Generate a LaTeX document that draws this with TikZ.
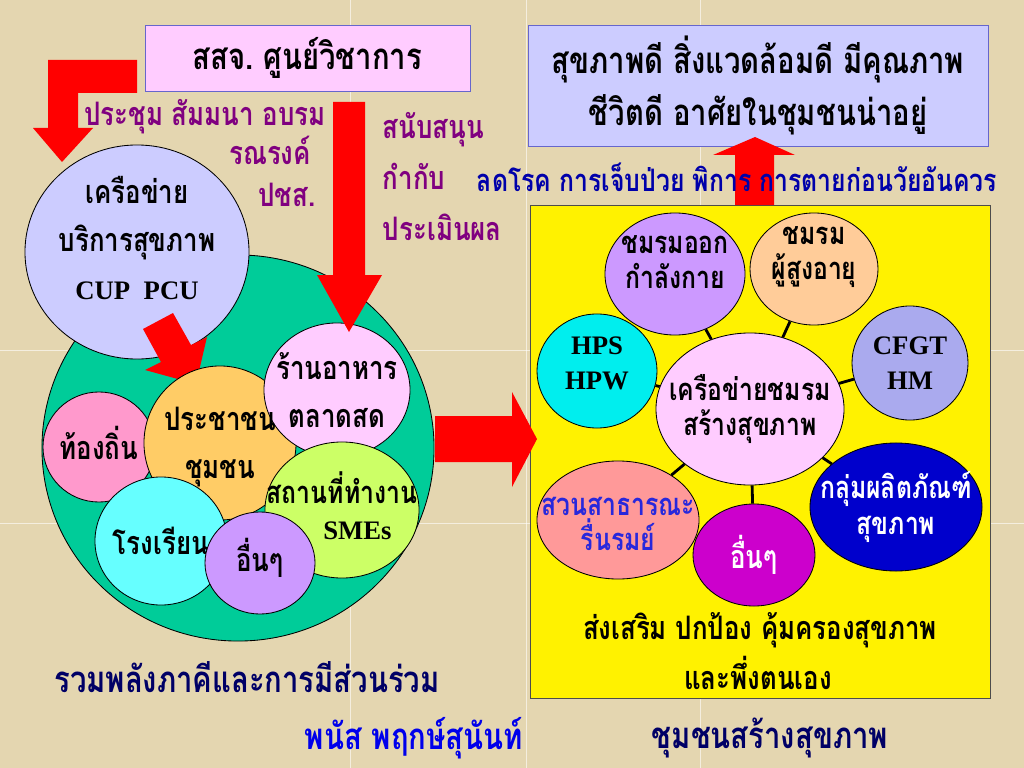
\documentclass[tikz,border=0pt]{standalone}
\usepackage{fontspec}
\newfontfamily\thaifont[Script=Thai,FakeStretch=0.8]{Loma}
\newfontfamily\latinfont{Liberation Serif}
\newcommand\lat[1]{{\latinfont\fontsize{19}{\baselineskip}\selectfont #1}}
\usetikzlibrary{shapes.geometric}

\definecolor{parch}{RGB}{228,214,176}
\definecolor{pinkbox}{RGB}{255,204,255}
\definecolor{lav}{RGB}{204,204,255}
\definecolor{boxline}{RGB}{102,102,204}
\definecolor{purp}{RGB}{128,0,128}
\definecolor{navy}{RGB}{0,0,102}
\definecolor{dblue}{RGB}{0,0,170}
\definecolor{bblue}{RGB}{0,0,235}
\definecolor{teal}{RGB}{0,204,153}
\definecolor{rose}{RGB}{255,153,204}
\definecolor{orng}{RGB}{255,204,102}
\definecolor{lime}{RGB}{204,255,102}
\definecolor{aqua}{RGB}{102,255,255}
\definecolor{lilac}{RGB}{204,153,255}
\definecolor{peach}{RGB}{255,204,153}
\definecolor{cyn}{RGB}{0,238,238}
\definecolor{periw}{RGB}{170,170,238}
\definecolor{roy}{RGB}{0,0,204}
\definecolor{salmon}{RGB}{255,153,153}
\definecolor{parktxt}{RGB}{40,40,220}
\definecolor{magen}{RGB}{204,0,204}

\begin{document}
\begin{tikzpicture}[x=0.025cm, y=-0.025cm,
    bub/.style={ellipse, draw=black, line width=0.6pt, inner sep=0pt},
    lbl/.style={font=\thaifont\bfseries\fontsize{23}{34}\selectfont, align=center},
    lbls/.style={font=\thaifont\bfseries\fontsize{22}{25}\selectfont, align=center},
    big/.style={font=\thaifont\bfseries\fontsize{26}{37}\selectfont, align=center},
    link/.style={line width=2pt}]

    \useasboundingbox (0,0) rectangle (1024,768);
    % Parchment background with tile seams
    \fill[parch] (0,0) rectangle (1024,768);
    \foreach \sx in {350,526,700} \draw[white, opacity=0.6, line width=0.5pt] (\sx,0) -- (\sx,768);
    \foreach \sy in {350,523} \draw[white, opacity=0.6, line width=0.5pt] (0,\sy) -- (1024,\sy);

    % Top boxes
    \node[draw=boxline, fill=pinkbox, minimum width=8.125cm, minimum height=1.65cm, big] (ssj) at (307.5,58) {สสจ.\ ศูนย์วิชาการ};
    \node[draw=boxline, fill=lav, minimum width=11.5cm, minimum height=3.025cm, big] (goal) at (758,85.5) {สุขภาพดี สิ่งแวดล้อมดี มีคุณภาพ\\ชีวิตดี อาศัยในชุมชนน่าอยู่};

    % Purple notes
    \node[lbl, text=purp] (meet) at (205,117) {ประชุม สัมมนา อบรม};
    \node[lbl, text=purp] (camp) at (270,150) {รณรงค์};
    \node[lbl, text=purp] (pr) at (287,195) {ปชส.};
    \node[lbl, text=purp, anchor=west] (supp) at (378,130) {สนับสนุน};
    \node[lbl, text=purp, anchor=west] (ctrl) at (378,176) {กำกับ};
    \node[lbl, text=purp, anchor=west] (eval) at (378,227) {ประเมินผล};

    % Bent arrow into the network
    \fill[red] (48,60) -- (137,60) -- (137,93) -- (78,93) -- (78,128) -- (93,128)
        -- (62,162) -- (33,128) -- (48,128) -- cycle;

    % Partners
    \node[bub, fill=teal, minimum width=9.8cm, minimum height=9.65cm] (part) at (238,448) {};
    \node[bub, fill=lav, minimum width=5.6cm, minimum height=5.35cm,
        label={[lbl, yshift=10pt]center:เครือข่าย\\บริการสุขภาพ\\\lat{CUP\ \ PCU}}] (cup) at (137,252) {};
    \fill[red] (143,329) -- (173,313) -- (191,345) -- (207,337) -- (196,384) -- (145,370) -- (161,362) -- cycle;
    \node[bub, fill=rose, minimum width=2.8cm, minimum height=2.75cm,
        label={[lbl, yshift=3pt]center:ท้องถิ่น}] (local) at (99,447) {};
    \node[bub, fill=orng, minimum width=3.8cm, minimum height=3.85cm] (people) at (220,443) {};
    \node[bub, fill=pinkbox, minimum width=3.65cm, minimum height=3.35cm,
        label={[lbl]center:ร้านอาหาร\\ตลาดสด}] (food) at (337,390) {};
    \node[lbl] (peopletxt) at (220,447) {ประชาชน\\ชุมชน};
    \node[bub, fill=lime, minimum width=3.85cm, minimum height=3.4cm,
        label={[lbls, yshift=3pt]center:สถานที่ทำงาน\\\hspace*{22pt}\lat{SMEs}}] (work) at (342,510) {};
    \node[bub, fill=aqua, minimum width=3.3cm, minimum height=3.2cm,
        label={[lbl]center:โรงเรียน}] (school) at (161,541) {};
    \node[bub, fill=lilac, minimum width=2.75cm, minimum height=2.55cm,
        label={[lbl, yshift=4pt]center:อื่นๆ}] (etc) at (260,563) {};
    \fill[red] (333,102) -- (365,102) -- (365,275) -- (382,275) -- (349,332) -- (317,275) -- (333,275) -- cycle;

    % Healthy community box
    \fill[yellow, draw=black!70, line width=0.6pt] (530,205) rectangle (990,698);
    \fill[red] (435,416) -- (512,416) -- (512,392) -- (537,439) -- (512,487) -- (512,462) -- (435,462) -- cycle;
    \fill[red] (735,205) -- (774,205) -- (774,155) -- (795,155) -- (755,137) -- (713,155) -- (735,155) -- cycle;
    \node[lbl, text=dblue, font=\thaifont\bfseries\fontsize{22}{34}\selectfont] (reduce) at (737,177) {ลดโรค การเจ็บป่วย พิการ การตายก่อนวัยอันควร};

    \node[bub, fill=lilac, minimum width=3.5cm, minimum height=3.05cm,
        label={[lbls, yshift=8.5pt]center:ชมรมออก\\กำลังกาย}] (sport) at (675,274) {};
    \node[bub, fill=peach, minimum width=3.2cm, minimum height=2.8cm,
        label={[lbls, yshift=8.5pt]center:ชมรม\\ผู้สูงอายุ}] (elder) at (814,269) {};
    \node[bub, fill=cyn, minimum width=3cm, minimum height=2.85cm,
        label={[lbls, yshift=5.5pt]center:\lat{HPS}\\\lat{HPW}}] (hps) at (597,371) {};
    \node[bub, fill=pinkbox, minimum width=4.7cm, minimum height=3.8cm,
        label={[lbls]center:เครือข่ายชมรม\\สร้างสุขภาพ}] (hub) at (750,409) {};
    \node[bub, fill=periw, minimum width=2.9cm, minimum height=2.85cm,
        label={[lbls]center:\lat{CFGT}\\\lat{HM}}] (cfgt) at (910,363) {};
    \node[bub, fill=roy, minimum width=4.3cm, minimum height=3.2cm,
        label={[lbls, text=white]center:กลุ่มผลิตภัณฑ์\\สุขภาพ}] (prod) at (896,507) {};
    \node[bub, fill=salmon, minimum width=4.05cm, minimum height=2.95cm,
        label={[lbls, text=parktxt, yshift=-3pt]center:สวนสาธารณะ\\รื่นรมย์}] (park) at (618,520) {};
    \node[bub, fill=magen, minimum width=3.05cm, minimum height=2.55cm,
        label={[lbl, text=white]center:อื่นๆ}] (etc2) at (754,555) {};
    \foreach \s in {sport,elder,hps,cfgt,prod,park,etc2}
        \draw[link] (hub) -- (\s);

    \node[lbl] (promo) at (760,630) {ส่งเสริม ปกป้อง คุ้มครองสุขภาพ};
    \node[lbl] (self) at (758,673) {และพึ่งตนเอง};

    % Captions
    \node[big, text=navy] (unite) at (247,677) {รวมพลังภาคีและการมีส่วนร่วม};
    \node[big, text=bblue] (author) at (414,738) {พนัส พฤกษ์สุนันท์};
    \node[big, text=navy] (title) at (770,738) {ชุมชนสร้างสุขภาพ};
\end{tikzpicture}
\end{document}
